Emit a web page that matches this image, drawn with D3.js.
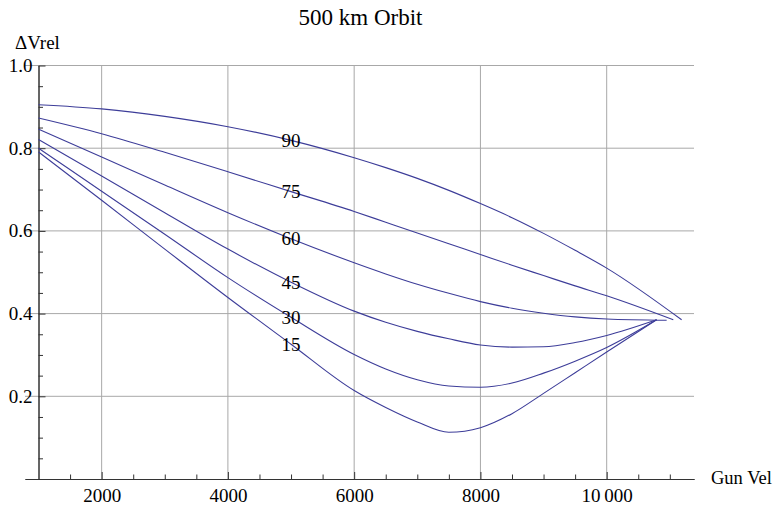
<!DOCTYPE html>
<html>
<head>
<meta charset="utf-8">
<script src="https://cdnjs.cloudflare.com/ajax/libs/d3/7.8.5/d3.min.js"></script>
<style>
  body { margin: 0; background: #fff; }
  text { font-family: "Liberation Serif", "Times New Roman", serif; fill: #000; }
  .grid line { stroke: #a8a8a8; stroke-width: 1; }
  .axis path, .axis line { stroke: #333; stroke-width: 1; }
</style>
</head>
<body>
<div id="chart"></div>
<script>
var width = 780;
var height = 508;

// data
var angles = [15, 30, 45, 60, 75, 90];
var gunVel = [1000, 2000, 3000, 4000, 5000, 6000, 6500, 7000, 7500, 8000, 8500, 9000, 9500, 10000];
var dv15 = [0.791, 0.674, 0.556, 0.439, 0.326, 0.214, 0.173, 0.138, 0.113, 0.124, 0.158, 0.207, 0.257, 0.307];
var dv30 = [0.800, 0.696, 0.592, 0.487, 0.391, 0.301, 0.266, 0.240, 0.225, 0.222, 0.232, 0.256, 0.285, 0.318];
var dv45 = [0.821, 0.733, 0.644, 0.556, 0.476, 0.406, 0.379, 0.357, 0.339, 0.324, 0.319, 0.320, 0.330, 0.347];
var dv60 = [0.846, 0.779, 0.711, 0.644, 0.581, 0.523, 0.496, 0.471, 0.449, 0.429, 0.413, 0.401, 0.392, 0.387];
var dv75 = [0.873, 0.835, 0.790, 0.743, 0.695, 0.647, 0.621, 0.595, 0.569, 0.543, 0.517, 0.492, 0.467, 0.443];
var dv90 = [0.905, 0.895, 0.877, 0.852, 0.819, 0.777, 0.753, 0.727, 0.698, 0.666, 0.632, 0.594, 0.553, 0.510];
// where each curve stops (same order as angles)
var endVel = [10790, 10790, 10790, 10950, 11055, 11187];
var endDv = [0.385, 0.385, 0.385, 0.384, 0.385, 0.385];

var xMajor = [2000, 4000, 6000, 8000, 10000];
var xTickLabels = ["2000", "4000", "6000", "8000", "10\u2009000"];
var yMajor = [0.2, 0.4, 0.6, 0.8, 1.0];
var yTickLabels = ["0.2", "0.4", "0.6", "0.8", "1.0"];

var labelVel = 5000;

var series = [dv15, dv30, dv45, dv60, dv75, dv90].map(function (vals, i) {
    var pts = gunVel.map(function (g, j) { return [g, vals[j]]; });
    pts.push([endVel[i], endDv[i]]);
    return { angle: angles[i], points: pts, label: vals[gunVel.indexOf(labelVel)] };
});

var svg = d3.select("#chart").append("svg")
    .attr("width", width)
    .attr("height", height);

var x = d3.scaleLinear()
    .domain([786, 11383])
    .range([25, 694]);

var y = d3.scaleLinear()
    .domain([0, 1])
    .range([479, 65.5]);

// grid
var grid = svg.append("g").attr("class", "grid");
grid.selectAll(".vg")
    .data(xMajor)
    .enter().append("line")
    .attr("x1", x).attr("x2", x)
    .attr("y1", y(0)).attr("y2", y(1));
grid.selectAll(".hg")
    .data(yMajor)
    .enter().append("line")
    .attr("x1", x.range()[0]).attr("x2", x.range()[1])
    .attr("y1", y).attr("y2", y);

// x axis: minor then major ticks, pointing up
var minorX = d3.range(1500, 11001, 500).filter(function (d) { return d % 2000 !== 0; });
svg.append("g")
    .attr("class", "axis")
    .attr("transform", "translate(0," + y(0) + ")")
    .call(d3.axisBottom(x).tickValues(minorX).tickSizeInner(-4.5).tickSizeOuter(0).tickFormat(""));

svg.append("g")
    .attr("class", "axis")
    .attr("transform", "translate(0," + y(0) + ")")
    .call(d3.axisBottom(x)
        .tickValues(xMajor)
        .tickSizeInner(-7)
        .tickSizeOuter(0)
        .tickPadding(10)
        .tickFormat(function (d, i) { return xTickLabels[i]; }))
    .selectAll("text")
    .attr("font-size", "19px");

// y axis
var minorY = d3.range(0.05, 1.0, 0.05).filter(function (d) { return Math.round(d * 100) % 20 !== 0; });
svg.append("g")
    .attr("class", "axis")
    .attr("transform", "translate(" + x(1000) + ",0)")
    .call(d3.axisLeft(y).tickValues(minorY).tickSizeInner(-4.5).tickSizeOuter(0).tickFormat(""));

svg.append("g")
    .attr("class", "axis")
    .attr("transform", "translate(" + x(1000) + ",0)")
    .call(d3.axisLeft(y)
        .tickValues(yMajor)
        .tickSizeInner(-7)
        .tickSizeOuter(0)
        .tickPadding(6)
        .tickFormat(function (d, i) { return yTickLabels[i]; }))
    .selectAll("text")
    .attr("font-size", "19px");

svg.selectAll(".axis text").attr("font-family", "Liberation Serif").attr("fill", "#000");

// curves
var line = d3.line()
    .x(function (d) { return x(d[0]); })
    .y(function (d) { return y(d[1]); })
    .curve(d3.curveMonotoneX);

svg.append("g")
    .selectAll("path")
    .data(series)
    .enter().append("path")
    .attr("fill", "none")
    .attr("stroke", "#3d3d99")
    .attr("stroke-width", 1.1)
    .attr("d", function (d) { return line(d.points); });

// curve labels
svg.append("g")
    .selectAll("text")
    .data(series)
    .enter().append("text")
    .attr("x", x(labelVel))
    .attr("y", function (d) { return y(d.label); })
    .attr("dy", "0.35em")
    .attr("text-anchor", "middle")
    .attr("font-size", "19px")
    .text(function (d) { return d.angle; });

// titles
svg.append("text")
    .attr("x", 360.5)
    .attr("y", 25)
    .attr("text-anchor", "middle")
    .attr("font-size", "23px")
    .text("500 km Orbit");

svg.append("text")
    .attr("x", 15)
    .attr("y", 49)
    .attr("font-size", "19px")
    .text("\u0394Vrel");

svg.append("text")
    .attr("x", 711)
    .attr("y", 484)
    .attr("font-size", "18.5px")
    .text("Gun Vel");
</script>
</body>
</html>
